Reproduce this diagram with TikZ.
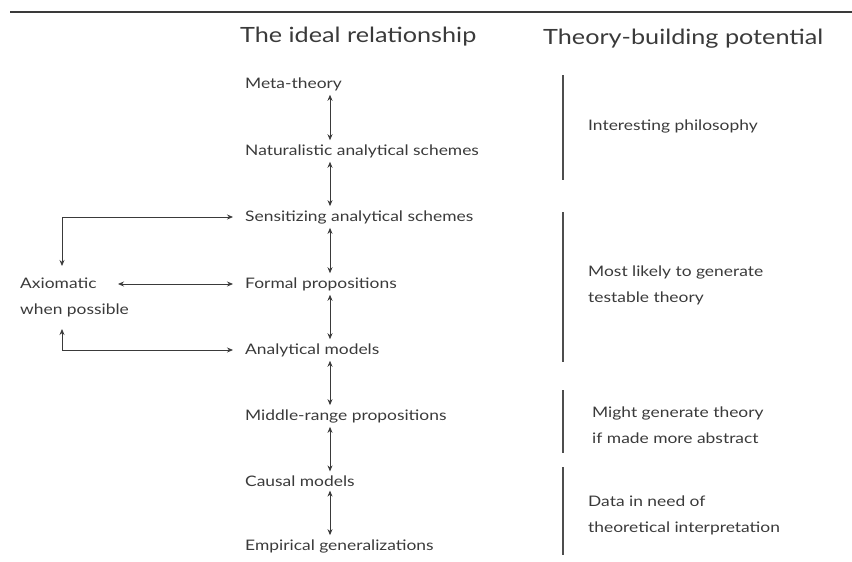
\documentclass[tikz,border=0pt]{standalone}
\usepackage{fontspec}
\setmainfont{Lato}[FakeStretch=1.2]
\usetikzlibrary{arrows.meta,calc}
\definecolor{ink}{HTML}{3A3A3A}
\begin{document}
\begin{tikzpicture}[x=1pt,y=-1pt,
  lbl/.style={anchor=west,inner sep=2pt,text=ink,font=\fontsize{14.5}{17}\selectfont},
  side/.style={anchor=west,inner sep=2pt,text=ink,align=left,font=\fontsize{14.5}{26}\selectfont},
  head/.style={anchor=west,inner sep=0pt,text=ink,font=\fontsize{21}{24}\selectfont},
  link/.style={draw=ink,line width=0.8pt,{Stealth[length=6pt,width=5pt]}-{Stealth[length=6pt,width=5pt]}},
  onearrow/.style={draw=ink,line width=0.8pt,-{Stealth[length=6pt,width=5pt]}},
  bar/.style={draw=ink!90,line width=2.4pt}]
\useasboundingbox (0,0) rectangle (852,562);
\draw[line width=1.2pt,ink] (10,12) -- (852,12);

% column headings
\node[head] (h1) at (240,37) {The ideal relationship};
\node[head] (h2) at (543,39) {Theory-building potential};

% levels of theory
\node[lbl] (meta) at (243,84) {Meta-theory};
\node[lbl] (nat)  at (243,151) {Naturalistic analytical schemes};
\node[lbl] (sens) at (243,217) {Sensitizing analytical schemes};
\node[lbl] (form) at (243,284) {Formal propositions};
\node[lbl] (anal) at (243,350) {Analytical models};
\node[lbl] (mid)  at (243,416) {Middle-range propositions};
\node[lbl] (caus) at (243,481) {Causal models};
\node[lbl] (emp)  at (243,546) {Empirical generalizations};

\coordinate (ax) at (330,0);
\foreach \a/\b in {meta/nat,nat/sens,sens/form,form/anal,anal/mid,mid/caus,caus/emp}
  \draw[link,shorten <=2pt,shorten >=2pt] (\a.south -| ax) -- (\b.north -| ax);

% axiomatic branch
\node[side] (axi) at (18,297) {Axiomatic\\when possible};
\coordinate (axtop) at (62,266);
\coordinate (axbot) at (62,329);
\draw[onearrow,shorten >=10pt] (sens.west -| axtop) -- (sens.west);
\draw[onearrow] (sens.west -| axtop) -- (axtop);
\draw[link,shorten >=10pt] ([xshift=100pt]axi.west |- form.west) -- (form.west);
\draw[onearrow,shorten >=10pt] (anal.west -| axbot) -- (anal.west);
\draw[onearrow] (anal.west -| axbot) -- (axbot);

% theory-building potential
\node[side] (p1) at (586,126) {Interesting philosophy};
\node[side] (p2) at (586,285) {Most likely to generate\\testable theory};
\node[side] (p3) at (590,425) {Might generate theory\\if made more abstract};
\node[side] (p4) at (586,515) {Data in need of\\theoretical interpretation};

\draw[bar] (563,75) -- (563,180);
\draw[bar] (563,212) -- (563,362);
\draw[bar] (563,390) -- (563,453);
\draw[bar] (563,467) -- (563,555);
\end{tikzpicture}
\end{document}
